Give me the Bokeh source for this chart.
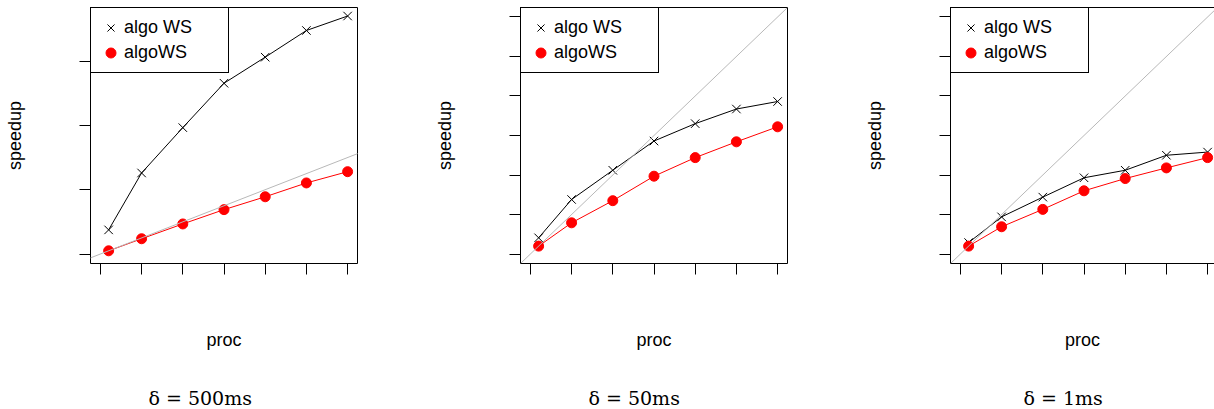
from bokeh.plotting import figure
from bokeh.models import (FixedTicker, CustomJSTickFormatter, Slope, Legend, LegendItem,
                          Range1d, LinearAxis, Title)
from bokeh.layouts import row
from bokeh.embed import file_html
from bokeh.resources import INLINE

# ---------------- data ----------------
procs = [1, 5, 10, 15, 20, 25, 30]
x_ticks = [0, 5, 10, 15, 20, 25, 30]

panel_titles = ["δ = 500ms", "δ = 50ms", "δ = 1ms"]
series_names = ["algo WS", "algoWS"]

algo_ws_500 = [7.5, 25.2, 39.3, 53.1, 61.2, 69.5, 74.0]
algows_500 = [1.0, 4.75, 9.35, 13.8, 17.8, 22.1, 25.6]

algo_ws_50 = [2.05, 6.9, 10.6, 14.3, 16.5, 18.35, 19.3]
algows_50 = [1.0, 3.95, 6.75, 9.85, 12.2, 14.2, 16.1]

algo_ws_1 = [1.45, 4.7, 7.2, 9.65, 10.6, 12.5, 12.9]
algows_1 = [1.0, 3.45, 5.65, 8.0, 9.55, 10.9, 12.2]

y_ticks_500 = [0, 20, 40, 60]
y_ticks_small = [0, 5, 10, 15, 20, 25, 30]

# ---------------- styling ----------------
SANS = "Liberation Sans"
SERIF = "DejaVu Serif"
FIG_H = 409
LEFT = 90
FRAME_W = 267
TOP = 7
FRAME_H = 256
BOTTOM = FIG_H - TOP - FRAME_H


def pad(lo, hi):
    d = (hi - lo) * 0.04
    return lo - d, hi + d


def make_panel(title, title_offset, ws_a, ws_b, yticks, ymax, width, truncated):
    x0, x1 = pad(0, 30)
    y0, y1 = pad(0, ymax)
    ppu = FRAME_W / (x1 - x0)
    if truncated:
        frame_w = width - LEFT
        x1 = x0 + frame_w / ppu
    else:
        frame_w = FRAME_W
    p = figure(width=width, height=FIG_H,
               x_range=Range1d(x0, x1), y_range=Range1d(y0, y1),
               output_backend="svg", toolbar_location=None,
               min_border_left=LEFT, min_border_right=width - LEFT - frame_w,
               min_border_top=TOP, min_border_bottom=BOTTOM)
    p.background_fill_color = "white"
    p.border_fill_color = "white"
    p.xgrid.visible = False
    p.ygrid.visible = False

    if truncated:
        p.outline_line_color = None
    else:
        p.outline_line_color = "black"
        p.outline_line_width = 1

    blank = CustomJSTickFormatter(code="return ''")
    for ax, ticks, label in ((p.xaxis[0], x_ticks, "proc"), (p.yaxis[0], yticks, "speedup")):
        ax.ticker = FixedTicker(ticks=ticks)
        ax.formatter = blank
        ax.major_tick_in = 0
        ax.major_tick_out = 11
        ax.major_tick_line_color = "black"
        ax.major_tick_line_width = 1
        ax.minor_tick_line_color = None
        ax.axis_line_color = "black" if truncated else None
        ax.axis_label = label
        ax.axis_label_text_font = SANS
        ax.axis_label_text_font_size = "18px"
        ax.axis_label_text_font_style = "normal"
        ax.axis_label_text_color = "black"
    p.xaxis[0].axis_label_standoff = 55
    p.yaxis[0].axis_label_standoff = 55

    # invisible spacer axis below the x axis, then the caption
    spacer = LinearAxis(ticker=FixedTicker(ticks=[x_ticks[0]]), formatter=blank,
                        major_tick_out=32, major_tick_in=0,
                        major_tick_line_color=None,
                        minor_tick_line_color=None, axis_line_color=None)
    p.add_layout(spacer, "below")
    p.add_layout(Title(text=title, align="left", offset=title_offset, standoff=0,
                       text_font=SERIF, text_font_size="19px",
                       text_font_style="normal", text_color="black"), "below")

    if truncated:
        top_axis = LinearAxis(ticker=FixedTicker(ticks=[]), formatter=blank,
                              major_tick_out=0, major_tick_in=0,
                              minor_tick_line_color=None, axis_line_color="black")
        p.add_layout(top_axis, "above")

    p.add_layout(Slope(gradient=1, y_intercept=0, line_color="#b8b8b8", line_width=1))

    p.line(procs, ws_a, line_color="black", line_width=1)
    r_a = p.scatter(procs, ws_a, marker="x", size=12, line_color="black", line_width=1)
    p.line(procs, ws_b, line_color="#ff0000", line_width=1)
    r_b = p.scatter(procs, ws_b, marker="circle", size=10, fill_color="#ff0000",
                    line_color="#ff0000")

    legend = Legend(items=[LegendItem(label=series_names[0], renderers=[r_a]),
                           LegendItem(label=series_names[1], renderers=[r_b])],
                    location="top_left", margin=0, padding=7, spacing=0,
                    glyph_width=25, glyph_height=25, label_height=25,
                    label_standoff=1, label_width=97,
                    label_text_font=SANS, label_text_font_size="18px",
                    label_text_color="black",
                    border_line_color="black", border_line_width=1, border_line_alpha=1,
                    background_fill_color="white", background_fill_alpha=1)
    p.add_layout(legend)
    return p


p1 = make_panel(panel_titles[0], 58, algo_ws_500, algows_500, y_ticks_500, 73.7, 430, False)
p2 = make_panel(panel_titles[1], 68, algo_ws_50, algows_50, y_ticks_small, 30, 430, False)
p3 = make_panel(panel_titles[2], 73, algo_ws_1, algows_1, y_ticks_small, 30, 354, True)

layout = row(p1, p2, p3)
open("out.html", "w").write(file_html(layout, INLINE))
